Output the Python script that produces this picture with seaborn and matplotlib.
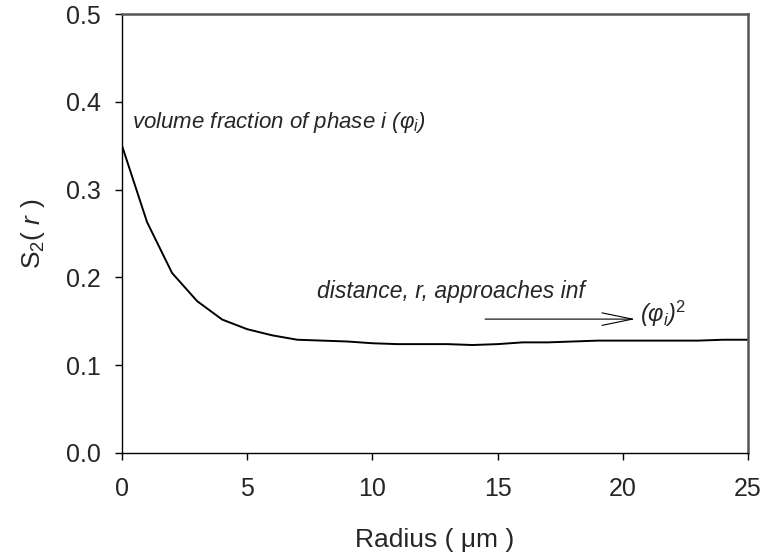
import matplotlib
matplotlib.use("Agg")
import matplotlib.pyplot as plt
import seaborn as sns
import pandas as pd

radius = list(range(0, 26))
s2 = [0.350, 0.263, 0.205, 0.173, 0.152, 0.141, 0.134, 0.129, 0.128, 0.127,
      0.125, 0.124, 0.124, 0.124, 0.123, 0.124, 0.126, 0.126, 0.127, 0.128,
      0.128, 0.128, 0.128, 0.128, 0.129, 0.129]
x_ticks = [0, 5, 10, 15, 20, 25]
y_ticks = [0.0, 0.1, 0.2, 0.3, 0.4, 0.5]

sns.set_style("ticks")
plt.rcParams['font.family'] = ['Liberation Sans', 'DejaVu Sans']
plt.rcParams['mathtext.fontset'] = 'custom'
plt.rcParams['mathtext.rm'] = 'Liberation Sans'
plt.rcParams['mathtext.it'] = 'Liberation Sans:italic'

df = pd.DataFrame({"radius": radius, "s2": s2})

fig = plt.figure(figsize=(7.67, 5.6), dpi=100)
ax = fig.add_axes([122/767, 1-453/560, (748-122)/767, (453-14)/560])
sns.lineplot(data=df, x="radius", y="s2", ax=ax, color="black", linewidth=1.4)

ax.set_xlim(0, 25)
ax.set_ylim(0, 0.5)
ax.set_xticks(x_ticks)
ax.set_yticks(y_ticks)
ax.set_xticklabels([str(v) for v in x_ticks])
ax.set_yticklabels([f"{v:.1f}" for v in y_ticks])
ax.tick_params(axis='both', labelsize=18, direction='out', length=5, width=1, color='black', pad=10)
ax.tick_params(axis='x', pad=12)

for s in ['left', 'bottom']:
    ax.spines[s].set_color('black')
    ax.spines[s].set_linewidth(1.0)
for s in ['top', 'right']:
    ax.spines[s].set_visible(True)
    ax.spines[s].set_color('#555555')
    ax.spines[s].set_linewidth(1.8)

ax.set_xlabel("Radius ( μm )", fontsize=19, labelpad=20)
ax.set_ylabel("S$_2$( $r$ )", fontsize=19, labelpad=14)

ax.text(0.4, 0.370, "volume fraction of phase i ($\\varphi_i$)", fontsize=16,
        style='italic', ha='left', va='baseline')
ax.text(7.8, 0.177, "distance, r, approaches inf", fontsize=16.5,
        style='italic', ha='left', va='baseline')
ax.annotate("", xy=(20.5, 0.1525), xytext=(14.5, 0.1525),
            arrowprops=dict(arrowstyle='->,head_length=2.2,head_width=0.45',
                            lw=0.8, color='black', shrinkA=0, shrinkB=0,
                            mutation_scale=10))
ax.text(20.7, 0.149, "($\\varphi_i$)$^2$", fontsize=17, style='italic',
        ha='left', va='baseline')

fig.savefig("out.png", dpi=100)
